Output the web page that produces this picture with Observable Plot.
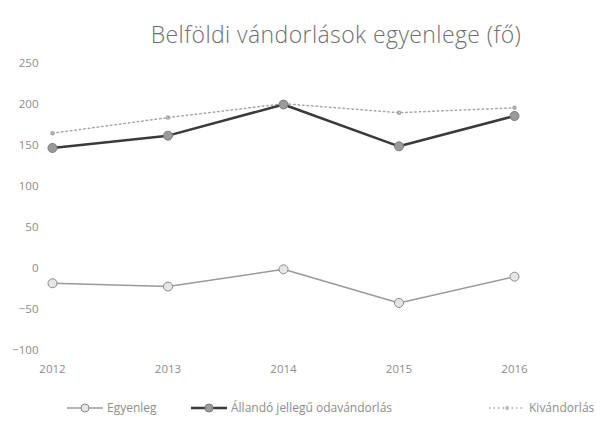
<!DOCTYPE html>
<html>
<head>
<meta charset="utf-8">
<script src="https://cdn.jsdelivr.net/npm/d3@7"></script>
<script src="https://cdn.jsdelivr.net/npm/@observablehq/plot@0.6"></script>
<style>
  body { margin: 0; background: #fff; font-family: "Open Sans", Lato, sans-serif; }
  #wrap { width: 606px; height: 421px; position: relative; overflow: hidden; }
  #title { position: absolute; top: 18px; left: 130px; width: 412px; text-align: center; font-size: 23px; letter-spacing: 0.4px; font-weight: 300; color: #6f6f6f; white-space: nowrap; }
  #chart { position: absolute; top: 50px; left: 0; }
  #legend { position: absolute; top: 399px; left: 0; width: 606px; height: 16px; font-size: 12px; color: #8c8c8c; white-space: nowrap; }
  .item { position: absolute; top: 0; display: flex; align-items: center; }
  .item svg { margin-right: 3px; }
</style>
</head>
<body>
<div id="wrap">
  <div id="title">Belföldi vándorlások egyenlege (fő)</div>
  <div id="chart"></div>
  <div id="legend"></div>
</div>
<script>
const years = [2012, 2013, 2014, 2015, 2016];
const seriesNames = ["Egyenleg", "Állandó jellegű odavándorlás", "Kivándorlás"];
const egyenleg = [-18, -22, -1, -42, -10];
const odavandorlas = [147, 162, 200, 149, 186];
const kivandorlas = [165, 184, 201, 190, 196];
const yTicks = [250, 200, 150, 100, 50, 0, -50, -100];

const toRows = (vals) => years.map((y, i) => ({year: y, value: vals[i]}));
const rEgy = toRows(egyenleg);
const rOda = toRows(odavandorlas);
const rKiv = toRows(kivandorlas);

const chart = Plot.plot({
  width: 606,
  height: 340,
  marginTop: 13,
  marginBottom: 40,
  marginLeft: 42,
  marginRight: 92,
  style: {fontFamily: "'Open Sans', Lato, sans-serif", fontSize: "11.5px", color: "#8c8c8c", background: "transparent"},
  x: {domain: [2012, 2016], range: [52, 514], ticks: years, tickFormat: d => String(d)},
  y: {domain: [-100, 250], ticks: yTicks},
  marks: [
    Plot.axisY({ticks: yTicks, tickSize: 0, tickPadding: 4, label: null, fontSize: 11.5}),
    Plot.axisX({ticks: years, tickSize: 0, tickPadding: 14, label: null, tickFormat: d => String(d), fontSize: 11.5}),
    Plot.line(rKiv, {x: "year", y: "value", stroke: "#a6a6a6", strokeWidth: 1.5, strokeDasharray: "1.5 3"}),
    Plot.dot(rKiv, {x: "year", y: "value", r: 1.5, stroke: "#a6a6a6", fill: "none"}),
    Plot.line(rOda, {x: "year", y: "value", stroke: "#3a3a3a", strokeWidth: 2.5}),
    Plot.dot(rOda, {x: "year", y: "value", r: 4.5, stroke: "#7a7a7a", fill: "#9a9a9a", strokeWidth: 1}),
    Plot.line(rEgy, {x: "year", y: "value", stroke: "#9a9a9a", strokeWidth: 1.5}),
    Plot.dot(rEgy, {x: "year", y: "value", r: 4.5, stroke: "#8a8a8a", fill: "#e6e6e6", strokeWidth: 1})
  ]
});
document.getElementById("chart").appendChild(chart);

// legend
const legendStyles = [
  {stroke: "#9a9a9a", width: 1.5, dash: null, mfill: "#e6e6e6", mstroke: "#8a8a8a", r: 4, left: 66},
  {stroke: "#3a3a3a", width: 2.5, dash: null, mfill: "#9a9a9a", mstroke: "#7a7a7a", r: 4, left: 190},
  {stroke: "#a6a6a6", width: 1.5, dash: "1.5 3", mfill: "none", mstroke: "#a6a6a6", r: 1.5, left: 488}
];
const legend = d3.select("#legend");
seriesNames.forEach((name, i) => {
  const s = legendStyles[i];
  const item = legend.append("div").attr("class", "item").style("left", s.left + "px");
  const svg = item.append("svg").attr("width", 38).attr("height", 14);
  svg.append("line").attr("x1", 1).attr("x2", 37).attr("y1", 7).attr("y2", 7)
    .attr("stroke", s.stroke).attr("stroke-width", s.width).attr("stroke-dasharray", s.dash);
  svg.append("circle").attr("cx", 19).attr("cy", 7).attr("r", s.r)
    .attr("fill", s.mfill).attr("stroke", s.mstroke);
  item.append("span").text(name);
});
</script>
</body>
</html>
